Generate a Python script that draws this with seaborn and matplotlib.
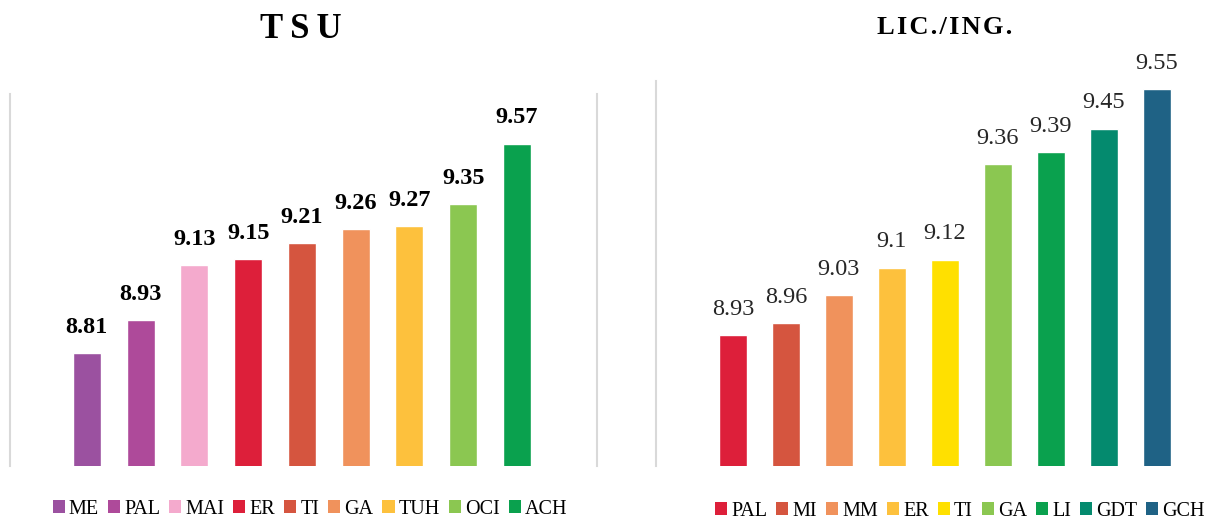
import matplotlib
matplotlib.use("Agg")
import matplotlib.pyplot as plt
from matplotlib.patches import Patch
import seaborn as sns
import pandas as pd

# TSU panel
tsu_labels = ["ME", "PAL", "MAI", "ER", "TI", "GA", "TUH", "OCI", "ACH"]
tsu_values = [8.81, 8.93, 9.13, 9.15, 9.21, 9.26, 9.27, 9.35, 9.57]
tsu_colors = ["#9B51A0", "#AE4A9A", "#F4AACD", "#DD1F3A", "#D5553F",
              "#F0925C", "#FDC13D", "#8BC751", "#0AA14E"]

# LIC./ING. panel
lic_labels = ["PAL", "MI", "MM", "ER", "TI", "GA", "LI", "GDT", "GCH"]
lic_values = [8.93, 8.96, 9.03, 9.10, 9.12, 9.36, 9.39, 9.45, 9.55]
lic_value_text = ["8.93", "8.96", "9.03", "9.1", "9.12", "9.36", "9.39", "9.45", "9.55"]
lic_colors = ["#DD1F3A", "#D5553F", "#F0925C", "#FDC13D", "#FFE000",
              "#8BC751", "#0AA14E", "#048A6E", "#1F6285"]

sns.set_theme(style="white")
plt.rcParams["font.family"] = ["Liberation Serif", "DejaVu Serif"]
plt.rcParams["text.color"] = "black"

fig = plt.figure(figsize=(12.28, 5.21), dpi=100)
W, H = 1228, 521


def px_axes(x0, y0, x1, y1):
    return fig.add_axes([x0 / W, 1 - y1 / H, (x1 - x0) / W, (y1 - y0) / H])


def draw_panel(ax, labels, values, colors, texts, bold, ylim, xlim, right_spine):
    df = pd.DataFrame({"cat": labels, "val": values})
    sns.barplot(data=df, x="cat", y="val", hue="cat", palette=dict(zip(labels, colors)),
                width=0.52, legend=False, ax=ax, saturation=1)
    ax.set_ylim(*ylim)
    ax.set_xlim(*xlim)
    for i, (v, t) in enumerate(zip(values, texts)):
        ax.annotate(t, (i, v), xytext=(0, 11), textcoords="offset points",
                    ha="center", va="bottom", fontsize=17.5,
                    fontweight="bold" if bold else "normal",
                    color="black" if bold else "#262626", annotation_clip=False)
    ax.set_xticks([])
    ax.set_yticks([])
    ax.set_xlabel("")
    ax.set_ylabel("")
    for s in ["top", "bottom"]:
        ax.spines[s].set_visible(False)
    ax.spines["left"].set_color("#D9D9D9")
    ax.spines["right"].set_color("#D9D9D9")
    ax.spines["right"].set_visible(right_spine)
    for s in ax.spines.values():
        s.set_linewidth(1.5)
    ax.patch.set_alpha(0)


ax1 = px_axes(10, 94, 597, 466)
draw_panel(ax1, tsu_labels, tsu_values, tsu_colors, [f"{v:.2f}" for v in tsu_values],
           True, (8.4, 9.75), (-1.43, 9.49), True)

ax2 = px_axes(656, 81, 1228, 466)
draw_panel(ax2, lic_labels, lic_values, lic_colors, lic_value_text,
           False, (8.6, 9.57), (-1.45, 9.34), False)

fig.text(301 / W, 1 - 29 / H, "T\u2009S\u2009U", ha="center", va="center",
         fontsize=25, fontweight="bold")
fig.text(945 / W, 1 - 27 / H, "\u200a".join("LIC./ING."), ha="center", va="center",
         fontsize=19, fontweight="bold")


def add_legend(labels, colors, cx, cy):
    handles = [Patch(facecolor=c, edgecolor="none", label=l) for l, c in zip(labels, colors)]
    fig.legend(handles=handles, loc="center", bbox_to_anchor=(cx / W, 1 - cy / H),
               ncol=len(labels), frameon=False, fontsize=14.5, handlelength=0.6,
               handleheight=0.6, handletextpad=0.2, columnspacing=0.45,
               borderaxespad=0, borderpad=0)


add_legend(tsu_labels, tsu_colors, 310, 509)
add_legend(lic_labels, lic_colors, 960, 511)

fig.savefig("out.png", dpi=100)
